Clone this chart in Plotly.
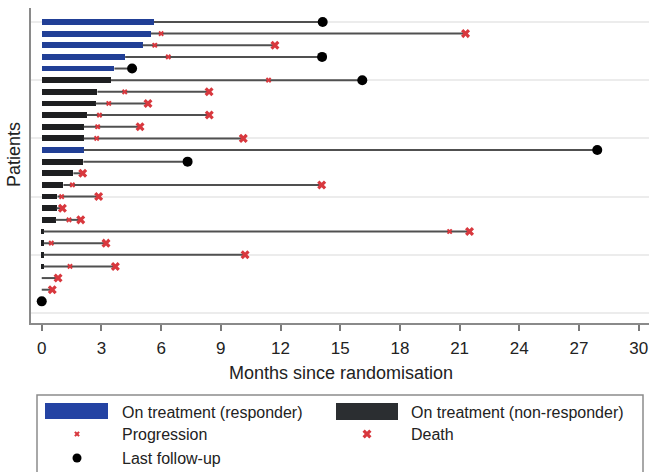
import plotly.graph_objects as go

# ---------------- data (patients listed from top to bottom) ----------------
treatment = [5.64, 5.49, 5.07, 4.19, 3.65, 3.48, 2.80, 2.71, 2.26, 2.11, 2.11, 2.11, 2.09,
             1.59, 1.09, 0.79, 0.75, 0.70, 0.10, 0.10, 0.10, 0.10, 0.0, 0.0, 0.0]
responder = [1, 1, 1, 1, 1, 0, 0, 0, 0, 0, 0, 1, 0,
             0, 0, 0, 0, 0, 0, 0, 0, 0, 0, 0, 0]
progression = [None, 6.0, 5.68, 6.36, None, 11.4, 4.17, 3.37, 2.90, 2.81, 2.76, None, None,
               None, 1.54, 1.0, None, 1.37, 20.5, 0.48, None, 1.42, None, None, None]
death = [None, 21.3, 11.72, None, None, None, 8.41, 5.34, 8.42, 4.94, 10.13, None, None,
         2.06, 14.07, 2.86, 1.04, 1.96, 21.5, 3.23, 10.22, 3.70, 0.82, 0.53, None]
followup = [14.12, None, None, 14.09, 4.54, 16.11, None, None, None, None, None, 27.92, 7.33,
            None, None, None, None, None, None, None, None, None, None, None, 0.0]
x_ticks = [0, 3, 6, 9, 12, 15, 18, 21, 24, 27, 30]
grid_rows = [0, 5, 10, 15, 20, 25]

n = len(treatment)
ypos = [n - i for i in range(n)]  # top patient = 25

BLUE = "#213f96"
BLACK = "#1e1f21"
RED = "#d8383e"
LINE = "#505050"
FONT = "Liberation Sans, Arial, sans-serif"
TXT = "#222222"

W, H = 649, 472
# plot-area pixel box
PL, PR, PT, PB = 31, 649, 8, 323

fig = go.Figure()

# follow-up lines (from end of treatment to last event)
lx, ly = [], []
for i in range(n):
    ends = [v for v in (progression[i], death[i], followup[i]) if v is not None]
    end = max(ends) if ends else 0
    if end > treatment[i]:
        lx += [treatment[i], end, None]
        ly += [ypos[i], ypos[i], None]
fig.add_trace(go.Scatter(x=lx, y=ly, mode="lines", line=dict(color=LINE, width=2),
                         hoverinfo="skip", showlegend=False))

# treatment bars
for flag, col in ((1, BLUE), (0, BLACK)):
    xs = [treatment[i] for i in range(n) if responder[i] == flag and treatment[i] > 0]
    ys = [ypos[i] for i in range(n) if responder[i] == flag and treatment[i] > 0]
    fig.add_trace(go.Bar(x=xs, y=ys, orientation="h", base=0, width=0.5,
                         marker=dict(color=col, line=dict(width=0)), showlegend=False))

# progression
px_ = [progression[i] for i in range(n) if progression[i] is not None]
py_ = [ypos[i] for i in range(n) if progression[i] is not None]
fig.add_trace(go.Scatter(x=px_, y=py_, mode="markers",
                         marker=dict(symbol="x", size=5, color=RED, line=dict(width=0)),
                         showlegend=False))
# death
dx_ = [death[i] for i in range(n) if death[i] is not None]
dy_ = [ypos[i] for i in range(n) if death[i] is not None]
fig.add_trace(go.Scatter(x=dx_, y=dy_, mode="markers",
                         marker=dict(symbol="x", size=8, color=RED, line=dict(width=0)),
                         showlegend=False))
# last follow-up
fx_ = [followup[i] for i in range(n) if followup[i] is not None]
fy_ = [ypos[i] for i in range(n) if followup[i] is not None]
fig.add_trace(go.Scatter(x=fx_, y=fy_, mode="markers",
                         marker=dict(symbol="circle", size=10, color="black"),
                         showlegend=False))

# ---------------- custom legend (overlay axes in page pixels) ----------------
fig.add_trace(go.Scatter(x=[77], y=[434], mode="markers", xaxis="x2", yaxis="y2",
                         marker=dict(symbol="x", size=5, color=RED, line=dict(width=0)),
                         showlegend=False, hoverinfo="skip"))
fig.add_trace(go.Scatter(x=[367], y=[434], mode="markers", xaxis="x2", yaxis="y2",
                         marker=dict(symbol="x", size=8, color=RED, line=dict(width=0)),
                         showlegend=False, hoverinfo="skip"))
fig.add_trace(go.Scatter(x=[77], y=[458], mode="markers", xaxis="x2", yaxis="y2",
                         marker=dict(symbol="circle", size=9, color="black"),
                         showlegend=False, hoverinfo="skip"))

def px(x):
    return x / W

def py(y):
    return 1 - y / H

shapes = [
    dict(type="rect", xref="paper", yref="paper", x0=px(37), x1=px(643), y0=py(395), y1=py(490),
         line=dict(color="#8c8c8c", width=1.5), fillcolor="rgba(0,0,0,0)"),
    dict(type="rect", xref="paper", yref="paper", x0=px(45), x1=px(108), y0=py(403), y1=py(419),
         line=dict(width=0), fillcolor="#2443a3"),
    dict(type="rect", xref="paper", yref="paper", x0=px(336), x1=px(398), y0=py(403), y1=py(420),
         line=dict(width=0), fillcolor="#2b2e31"),
]
legend_text = [
    ("On treatment (responder)", 120, 412),
    ("On treatment (non-responder)", 409, 412),
    ("Progression", 120, 434),
    ("Death", 409, 434),
    ("Last follow-up", 120, 458),
]
annotations = []
for t, x, y in legend_text:
    annotations.append(dict(text=t, x=px(x), y=py(y), xref="paper", yref="paper",
                            xanchor="left", yanchor="middle", showarrow=False,
                            font=dict(family=FONT, size=16, color=TXT)))
annotations.append(dict(text="Months since randomisation", x=px(340.5), y=py(373),
                        xref="paper", yref="paper", xanchor="center", yanchor="middle",
                        showarrow=False, font=dict(family=FONT, size=18, color=TXT)))
annotations.append(dict(text="Patients", x=px(14), y=py(155), xref="paper", yref="paper",
                        xanchor="center", yanchor="middle", textangle=-90, showarrow=False,
                        font=dict(family=FONT, size=18, color=TXT)))

fig.update_layout(
    width=W, height=H,
    margin=dict(l=0, r=0, t=0, b=0),
    paper_bgcolor="white", plot_bgcolor="rgba(0,0,0,0)",
    barmode="overlay", bargap=0,
    font=dict(family=FONT, color=TXT),
    showlegend=False,
    shapes=shapes, annotations=annotations,
    xaxis=dict(domain=[PL / W, PR / W], range=[-0.54, 30.52], tickvals=x_ticks,
               ticktext=[str(v) for v in x_ticks], ticks="outside", ticklen=6, tickwidth=1.5,
               tickcolor="#7a7a7a", showline=True, linecolor="#8a8a8a", linewidth=1.5,
               showgrid=False, zeroline=False, tickfont=dict(size=17, color=TXT),
               ticklabelstandoff=3, fixedrange=True),
    yaxis=dict(domain=[1 - PB / H, 1 - PT / H], range=[-0.86, 26.2], tickvals=grid_rows,
               showticklabels=False, ticks="", showline=True, linecolor="#8a8a8a",
               linewidth=1.5, showgrid=True, gridcolor="#ececec", gridwidth=1.5,
               zeroline=False, fixedrange=True),
    xaxis2=dict(domain=[0, 1], range=[0, W], visible=False, fixedrange=True),
    yaxis2=dict(domain=[0, 1], range=[H, 0], visible=False, fixedrange=True),
)

fig.write_html("out.html", config={"displayModeBar": False},
               post_script="document.body.style.margin='0';document.body.style.overflow='hidden';")
